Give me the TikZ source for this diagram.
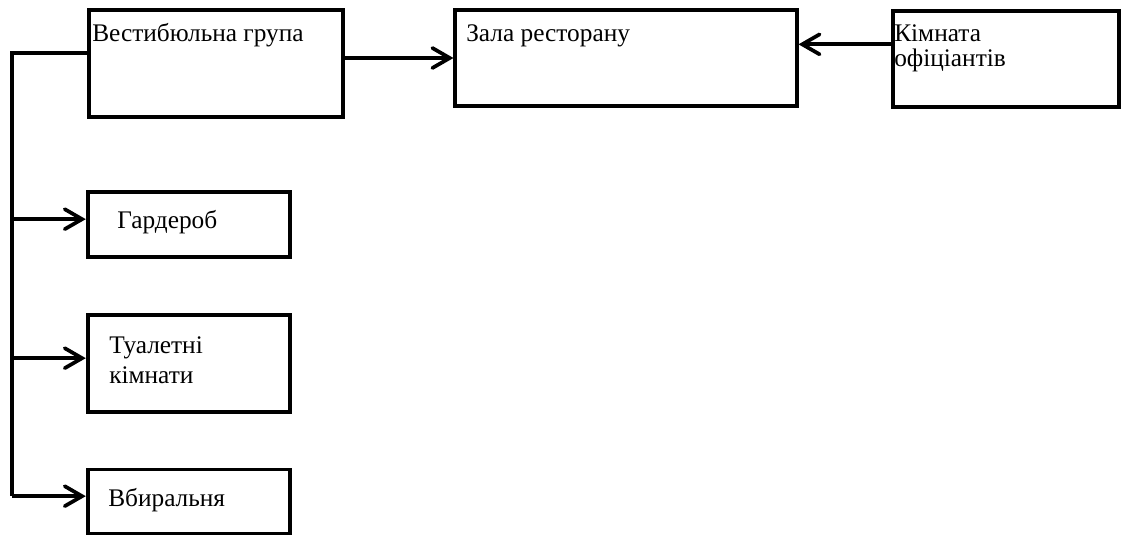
\documentclass[tikz,border=0pt]{standalone}
\usepackage{fontspec}
\setmainfont{Liberation Serif}
\usepackage{tikz}
\usetikzlibrary{positioning,arrows.meta}
\tikzset{
  room/.style={draw,line width=2.8pt,inner sep=0pt},
  lbl/.style={inner sep=0pt,anchor=base west,align=left,font=\rmfamily\fontsize{19}{19}\selectfont},
  arr/.style={line width=2.8pt,-{Straight Barb[length=13pt,width=15pt,line cap=round]}},
}
\begin{document}
\begin{tikzpicture}[x=0.75pt,y=-0.75pt,line join=miter]
  \useasboundingbox (0,0) rectangle (1128,535);
  % top row
  \node[room,minimum width=190pt,minimum height=80pt] (vest) at (216,63.5) {};
  \node[room,minimum width=256pt,minimum height=72pt] (zala) at (626,58) {};
  \node[room,minimum width=170pt,minimum height=72pt] (kim) at (1006,59) {};
  % left column
  \node[room,minimum width=152pt,minimum height=49pt] (gard) at (189,224.5) {};
  \node[room,minimum width=152pt,minimum height=73pt] (tual) at (189,363.5) {};
  \node[room,minimum width=152pt,minimum height=48pt] (vbyr) at (189,501.5) {};
  % texts (base = last line)
  \node[lbl] (vesttxt) at (92,42) {Вестибюльна група};
  \node[lbl] (zalatxt) at (466,42) {Зала ресторану};
  \node[lbl] (kimtxt) at (894,67) {Кімната\\офіціантів};
  \node[lbl,font=\rmfamily\fontsize{19}{22.5}\selectfont] (tualtxt) at (109,383) {Туалетні\\кімнати};
  \node[lbl] (gardtxt) at (117,228) {Гардероб};
  \node[lbl] (vbyrtxt) at (108,506) {Вбиральня};
  % connectors
  \coordinate (trunk) at (12,53);
  \coordinate (kimout) at ([yshift=11pt]kim.west);
  \coordinate (gardin) at ([yshift=4pt]gard.west);
  \coordinate (tualin) at ([yshift=4pt]tual.west);
  \coordinate (vbyrin) at ([yshift=4pt]vbyr.west);
  \draw[arr] (vest.east |- zala.west) -- (zala.west);
  \draw[arr] (kimout) -- (kimout -| zala.east);
  \draw[line width=2.8pt] (vest.west |- trunk) -- (trunk) -- (trunk |- vbyrin);
  \draw[arr] (trunk |- gardin) -- (gardin);
  \draw[arr] (trunk |- tualin) -- (tualin);
  \draw[arr] (trunk |- vbyrin) -- (vbyrin);
\end{tikzpicture}
\end{document}
